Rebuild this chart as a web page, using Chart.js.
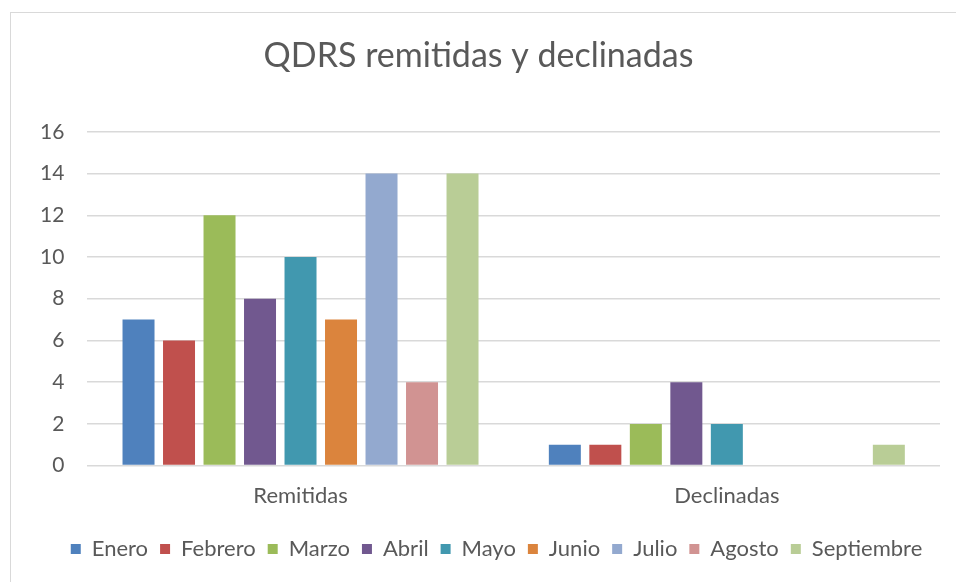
<!DOCTYPE html>
<html>
<head>
<meta charset="utf-8">
<script src="https://cdn.jsdelivr.net/npm/chart.js@4.4.1/dist/chart.umd.min.js"></script>
<style>
  html, body { margin: 0; padding: 0; background: #fff; overflow: hidden; width: 956px; height: 582px; }
  #box { position: absolute; left: 10px; top: 12px; width: 960px; height: 600px; border: 1px solid #d9d9d9; box-sizing: border-box; }
  #box canvas { position: absolute; left: 0; top: 0; }
</style>
</head>
<body>
<div id="box"><canvas id="c" width="960" height="600"></canvas></div>
<script>
const categories = ["Remitidas", "Declinadas"];
const months = ["Enero", "Febrero", "Marzo", "Abril", "Mayo", "Junio", "Julio", "Agosto", "Septiembre"];
const enero = [7, 1];
const febrero = [6, 1];
const marzo = [12, 2];
const abril = [8, 4];
const mayo = [10, 2];
const junio = [7, 0];
const julio = [14, 0];
const agosto = [4, 0];
const septiembre = [14, 1];
const seriesValues = [enero, febrero, marzo, abril, mayo, junio, julio, agosto, septiembre];
const colors = ["#4F81BD", "#C0504D", "#9BBB59", "#71588F", "#4198AF", "#DB843D", "#93A9CF", "#D19392", "#B9CD96"];
const yTicks = [0, 2, 4, 6, 8, 10, 12, 14, 16];

const FONT = "Lato, 'Open Sans', sans-serif";
const TXT = "#595959";

const legendShift = {
  id: "legendShift",
  afterLayout(chart) {
    if (chart.legend) { chart.legend.left += 18; chart.legend.right += 18; }
  }
};

new Chart(document.getElementById("c"), {
  type: "bar",
  data: {
    labels: categories,
    datasets: months.map((m, i) => ({
      label: m,
      data: seriesValues[i],
      backgroundColor: colors[i],
      borderWidth: 0,
      categoryPercentage: 0.855,
      barPercentage: 0.79
    }))
  },
  options: {
    responsive: false,
    animation: false,
    layout: { padding: { left: 6, right: 31, top: 0, bottom: 43 } },
    plugins: {
      title: {
        display: true,
        text: "QDRS remitidas y declinadas",
        color: TXT,
        font: { family: FONT, size: 34, weight: "normal" },
        padding: { top: 23, bottom: 55 }
      },
      legend: {
        position: "bottom",
        labels: {
          color: TXT,
          font: { family: FONT, size: 22 },
          boxWidth: 10,
          boxHeight: 10,
          padding: 12
        }
      },
      tooltip: { enabled: false }
    },
    scales: {
      x: {
        grid: { display: false, drawTicks: false },
        border: { display: false },
        ticks: { color: TXT, font: { family: FONT, size: 22 }, padding: 17 }
      },
      y: {
        min: 0,
        max: 16,
        afterBuildTicks: (axis) => { axis.ticks = yTicks.map(v => ({ value: v })); },
        grid: { color: "#d9d9d9", lineWidth: 1.5, drawTicks: false },
        border: { display: false },
        ticks: { color: TXT, font: { family: FONT, size: 21 }, padding: 23 }
      }
    }
  },
  plugins: [legendShift]
});
</script>
</body>
</html>
